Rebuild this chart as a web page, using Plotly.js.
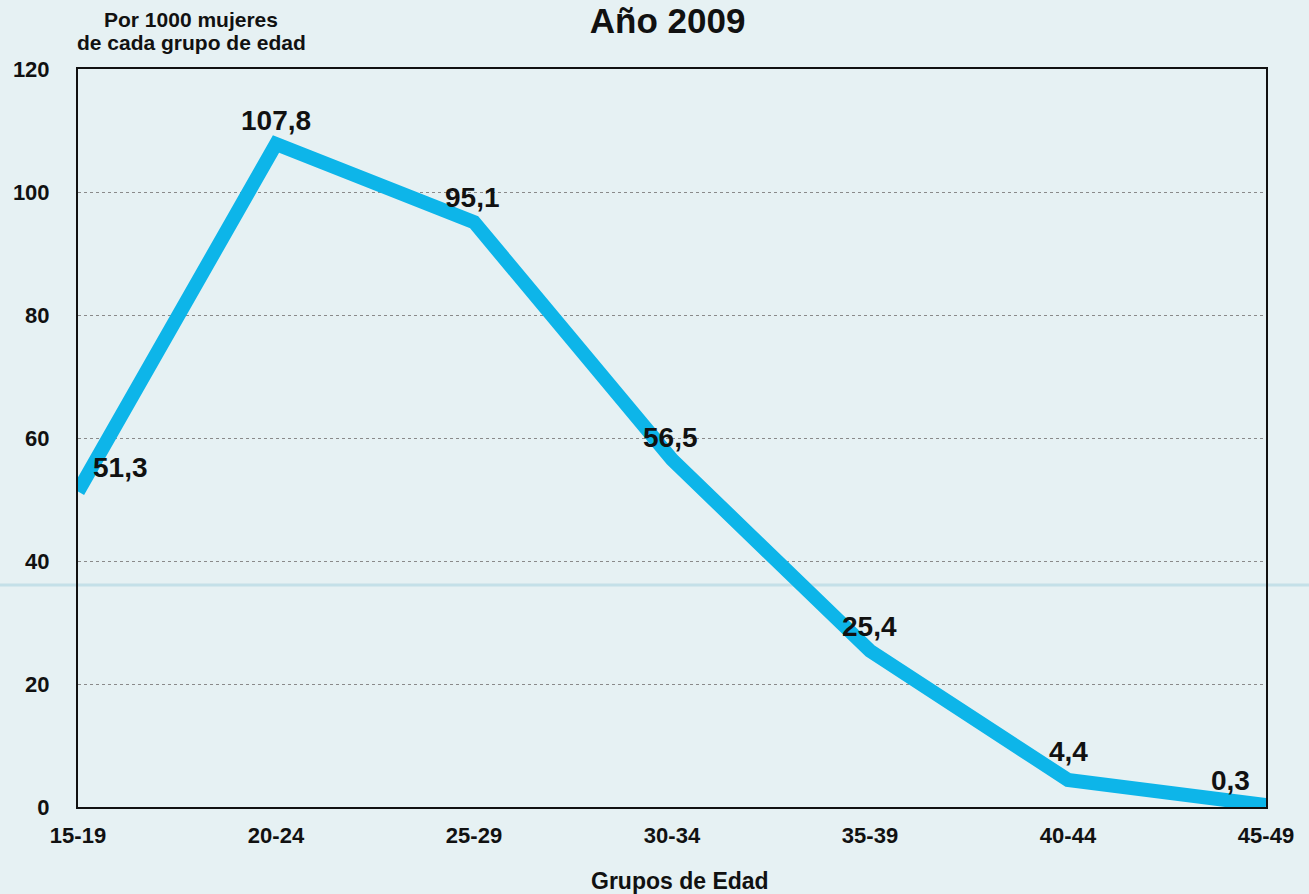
<!DOCTYPE html>
<html><head><meta charset="utf-8">
<script src="https://cdn.plot.ly/plotly-3.0.1.min.js"></script>
<style>html,body{margin:0;padding:0;background:#e6f1f3;}</style>
</head><body>
<div id="chart" style="width:1309px;height:894px;"></div>
<script>
var categories = ["15-19","20-24","25-29","30-34","35-39","40-44","45-49"];
var values = [51.3, 107.8, 95.1, 56.5, 25.4, 4.4, 0.3];
var valueLabels = ["51,3","107,8","95,1","56,5","25,4","4,4","0,3"];
var labelShiftX = [42, 0, -2, -2, -1, 0, -36];
var labelShiftY = [24, 24, 25, 22, 24, 28, 25];

var FONT = 'Liberation Sans, Arial, sans-serif';

var trace = {
  x: categories, y: values, type: 'scatter', mode: 'lines',
  line: {color: '#0db5e9', width: 14},
  cliponaxis: false, hoverinfo: 'none'
};

var annotations = categories.map(function (c, i) {
  return {
    x: c, y: values[i], xref: 'x', yref: 'y', text: '<b>' + valueLabels[i] + '</b>',
    showarrow: false, xanchor: 'center', yanchor: 'middle',
    xshift: labelShiftX[i], yshift: labelShiftY[i],
    font: {family: FONT, size: 28, color: '#111'}
  };
});
annotations.push({
  text: '<b>Por 1000 mujeres</b>', xref: 'paper', yref: 'paper',
  x: (191 - 78) / 1188, y: 1, xanchor: 'center', yanchor: 'middle', yshift: 50, showarrow: false,
  font: {family: FONT, size: 21, color: '#111'}
});
annotations.push({
  text: '<b>de cada grupo de edad</b>', xref: 'paper', yref: 'paper',
  x: (191 - 78) / 1188, y: 1, xanchor: 'center', yanchor: 'middle', yshift: 27, showarrow: false,
  font: {family: FONT, size: 21, color: '#111'}
});
annotations.push({
  text: '<b>Grupos de Edad</b>', xref: 'paper', yref: 'paper',
  x: (680 - 78) / 1188, y: 0, xanchor: 'center', yanchor: 'middle', yshift: -74, showarrow: false,
  font: {family: FONT, size: 23, color: '#111'}
});

var layout = {
  width: 1309, height: 894,
  margin: {l: 78, r: 43, t: 69, b: 87},
  paper_bgcolor: '#e6f1f3', plot_bgcolor: 'rgba(0,0,0,0)',
  showlegend: false,
  font: {family: FONT, color: '#111'},
  title: {text: '<b>Año 2009</b>', font: {size: 35, color: '#111', family: FONT}, x: 0.51, xanchor: 'center', y: 1 - 21 / 894, yanchor: 'middle'},
  xaxis: {
    type: 'category', range: [0, 6], showgrid: false,
    showline: true, linecolor: '#111', linewidth: 2, mirror: true,
    ticks: '', ticklabelstandoff: 8,
    tickfont: {size: 22, family: FONT, weight: 'bold', color: '#111'},
    automargin: false
  },
  yaxis: {
    range: [0, 120], dtick: 20, showgrid: true, gridcolor: '#8a8a8a', griddash: 'dot', gridwidth: 1,
    showline: true, linecolor: '#111', linewidth: 2, mirror: true,
    zeroline: false, ticks: '', ticklabelstandoff: 22,
    tickfont: {size: 22, family: FONT, weight: 'bold', color: '#111'}, automargin: false
  },
  annotations: annotations,
  shapes: [{
    type: 'line', xref: 'paper', yref: 'y', x0: -0.07, x1: 1.04, y0: 36.1, y1: 36.1,
    line: {color: '#c4e0e8', width: 3}, layer: 'below'
  }]
};

Plotly.newPlot('chart', [trace], layout, {displayModeBar: false, staticPlot: true});
</script>
</body></html>
